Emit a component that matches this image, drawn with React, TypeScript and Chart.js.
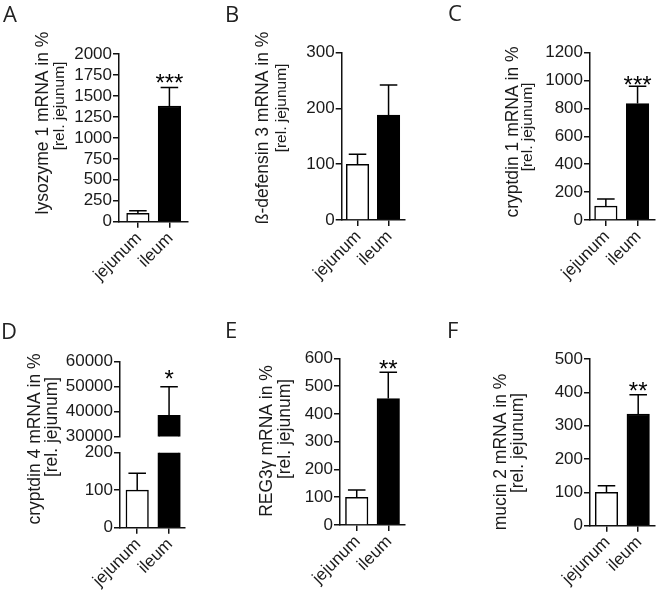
import React, { useEffect, useRef } from "react";
import { Chart, registerables } from "chart.js";

Chart.register(...registerables);

// ---------- data ----------
const categories = ["jejunum", "ileum"];

const lysozymeMeans = [100, 1380];
const lysozymeErrors = [130, 1600];
const lysozymeTicks = [0, 250, 500, 750, 1000, 1250, 1500, 1750, 2000];

const defensinMeans = [100, 188];
const defensinErrors = [118, 242];
const defensinTicks = [0, 100, 200, 300];

const cryptdin1Means = [100, 835];
const cryptdin1Errors = [150, 960];
const cryptdin1Ticks = [0, 200, 400, 600, 800, 1000, 1200];

const cryptdin4Means = [100, 38500];
const cryptdin4Errors = [145, 50000];
const cryptdin4UpperTicks = [30000, 40000, 50000, 60000];
const cryptdin4LowerTicks = [0, 100, 200];

const reg3gMeans = [100, 455];
const reg3gErrors = [126, 550];
const reg3gTicks = [0, 100, 200, 300, 400, 500, 600];

const mucinMeans = [100, 335];
const mucinErrors = [120, 393];
const mucinTicks = [0, 100, 200, 300, 400, 500];

const panelLetters = ["A", "B", "C", "D", "E", "F"];
const yTitles = [
  "lysozyme 1 mRNA in %",
  "ß-defensin 3 mRNA in %",
  "cryptdin 1 mRNA in %",
  "cryptdin 4 mRNA in %",
  "REG3γ mRNA in %",
  "mucin 2 mRNA in %",
];
const ySubTitle = "[rel. jejunum]";
const significance = ["***", "", "***", "*", "**", "**"];

// ---------- style ----------
const FONT = "'Liberation Sans', Arial, Helvetica, sans-serif";
const INK = "#111111";
const TEXT = "#1a1a1a";
const Y_AXIS_W = 60;
const X_AXIS_H = 70;

type Spec = {
  key: string;
  box: { x: number; y: number; w: number; h: number };
  area: { left: number; right: number; top: number; bottom: number };
  xMin: number;
  xMax: number;
  showX: boolean;
  means: number[];
  errors: number[];
  ticks: number[];
  stars: string;
  starGap: number;
  letter?: { text: string; x: number; y: number };
  titles?: { text: string; x: number; y: number; size: number }[];
};

const decorPlugin = {
  id: "decor",
  afterDatasetsDraw(chart: any, _args: any, opts: any) {
    const ctx = chart.ctx as CanvasRenderingContext2D;
    const ys = chart.scales.y;
    const meta = chart.getDatasetMeta(0);
    ctx.save();
    ctx.strokeStyle = "#000";
    ctx.lineWidth = 1.5;
    (opts.errors as number[]).forEach((err, i) => {
      const mean = opts.means[i];
      if (err > ys.max || err < ys.min) return;
      const bar = meta.data[i];
      const cx = bar.x;
      const y0 = ys.getPixelForValue(Math.max(mean, ys.min));
      const y1 = ys.getPixelForValue(err);
      const cap = bar.width * 0.78;
      ctx.beginPath();
      ctx.moveTo(cx, y0);
      ctx.lineTo(cx, y1);
      ctx.moveTo(cx - cap / 2, y1);
      ctx.lineTo(cx + cap / 2, y1);
      ctx.stroke();
      if (i === opts.means.length - 1 && opts.stars) {
        const size = 24;
        ctx.fillStyle = "#000";
        ctx.font = `${size}px ${FONT}`;
        ctx.textAlign = "center";
        ctx.textBaseline = "alphabetic";
        const centerY = y1 - opts.starGap;
        ctx.fillText(opts.stars, cx, centerY + 0.57 * size);
      }
    });
    ctx.restore();
  },
  afterDraw(chart: any, _args: any, opts: any) {
    const ctx = chart.ctx as CanvasRenderingContext2D;
    const bx = opts.box.x;
    const by = opts.box.y;
    ctx.save();
    // rotated category labels under the x axis, anchored at the scale's ticks
    if (opts.showX) {
      const xs = chart.scales.x;
      const base = chart.chartArea.bottom;
      categories.forEach((c, i) => {
        const tx = xs.getPixelForValue(i);
        ctx.save();
        ctx.translate(tx + 1, base + 14);
        ctx.rotate(-Math.PI / 4);
        ctx.fillStyle = TEXT;
        ctx.font = `17px ${FONT}`;
        ctx.textAlign = "right";
        ctx.textBaseline = "middle";
        ctx.fillText(c, 0, 0);
        ctx.restore();
      });
    }
    if (opts.letter) {
      ctx.fillStyle = "#222";
      ctx.font = `22px 'Open Sans', ${FONT}`;
      ctx.textAlign = "left";
      ctx.textBaseline = "alphabetic";
      ctx.fillText(opts.letter.text, opts.letter.x - bx, opts.letter.y - by);
    }
    if (opts.titles) {
      for (const t of opts.titles) {
        ctx.save();
        ctx.translate(t.x - bx, t.y - by);
        ctx.rotate(-Math.PI / 2);
        ctx.fillStyle = TEXT;
        ctx.font = `${t.size}px ${FONT}`;
        ctx.textAlign = "center";
        ctx.textBaseline = "middle";
        ctx.fillText(t.text, 0, 0);
        ctx.restore();
      }
    }
    ctx.restore();
  },
};

function buildConfig(s: Spec): any {
  const tickFont = { family: FONT, size: 17 };
  const xh = s.showX ? X_AXIS_H : 0;
  const padding = {
    left: s.area.left - s.box.x - Y_AXIS_W,
    right: s.box.x + s.box.w - s.area.right,
    top: s.area.top - s.box.y,
    bottom: s.box.y + s.box.h - s.area.bottom - xh,
  };
  return {
    type: "bar",
    data: {
      datasets: [
        {
          data: s.means.map((v, i) => ({ x: i, y: v })),
          backgroundColor: ["#ffffff", "#000000"],
          borderColor: "#000000",
          borderWidth: 1.5,
          barThickness: 22.5,
          clip: 0,
        },
      ],
    },
    options: {
      responsive: false,
      animation: false,
      events: [],
      layout: { padding },
      plugins: {
        legend: { display: false },
        tooltip: { enabled: false },
        title: { display: false },
        decor: {
          box: s.box,
          showX: s.showX,
          means: s.means,
          errors: s.errors,
          stars: s.stars,
          starGap: s.starGap,
          letter: s.letter,
          titles: s.titles,
        },
      },
      scales: {
        x: {
          type: "linear",
          min: s.xMin,
          max: s.xMax,
          offset: false,
          display: s.showX,
          afterBuildTicks: (a: any) => {
            a.ticks = categories.map((_, i) => ({ value: i }));
          },
          afterFit: (a: any) => {
            a.height = xh;
            a.paddingLeft = 0;
            a.paddingRight = 0;
          },
          grid: {
            display: true,
            offset: false,
            drawOnChartArea: false,
            drawTicks: true,
            tickLength: 6,
            color: INK,
            lineWidth: 1.5,
          },
          border: { display: true, color: INK, width: 1.5 },
          ticks: {
            display: false,
            autoSkip: false,
            font: tickFont,
            callback: (v: number) => categories[v],
          },
        },
        y: {
          type: "linear",
          min: s.ticks[0],
          max: s.ticks[s.ticks.length - 1],
          afterBuildTicks: (a: any) => {
            a.ticks = s.ticks.map((v) => ({ value: v }));
          },
          afterFit: (a: any) => {
            a.width = Y_AXIS_W;
            a.paddingTop = 0;
            a.paddingBottom = 0;
          },
          grid: {
            display: true,
            drawOnChartArea: false,
            drawTicks: true,
            tickLength: 6,
            color: INK,
            lineWidth: 1.5,
          },
          border: { display: true, color: INK, width: 1.5 },
          ticks: {
            autoSkip: false,
            padding: 1,
            font: tickFont,
            color: TEXT,
            callback: (v: number) => String(v),
          },
        },
      },
    },
    plugins: [decorPlugin],
  };
}

const TOP_H = 300;
const BOT_H = 315;

const specs: Spec[] = [
  {
    key: "A",
    box: { x: 0, y: 0, w: 218, h: TOP_H },
    area: { left: 119, right: 188, top: 54, bottom: 221.7 },
    xMin: -0.6,
    xMax: 1.59,
    showX: true,
    means: lysozymeMeans,
    errors: lysozymeErrors,
    ticks: lysozymeTicks,
    stars: significance[0],
    starGap: 10,
    letter: { text: panelLetters[0], x: 3, y: 22 },
    titles: [
      { text: yTitles[0], x: 43, y: 123, size: 17.5 },
      { text: ySubTitle, x: 60, y: 106, size: 15.5 },
    ],
  },
  {
    key: "B",
    box: { x: 218, y: 0, w: 218, h: TOP_H },
    area: { left: 341.7, right: 405, top: 52.7, bottom: 220 },
    xMin: -0.51,
    xMax: 1.53,
    showX: true,
    means: defensinMeans,
    errors: defensinErrors,
    ticks: defensinTicks,
    stars: significance[1],
    starGap: 9,
    letter: { text: panelLetters[1], x: 225, y: 22 },
    titles: [
      { text: yTitles[1], x: 263, y: 128, size: 17.5 },
      { text: ySubTitle, x: 282, y: 108, size: 15.5 },
    ],
  },
  {
    key: "C",
    box: { x: 436, y: 0, w: 224, h: TOP_H },
    area: { left: 590, right: 655, top: 52.7, bottom: 220 },
    xMin: -0.5,
    xMax: 1.55,
    showX: true,
    means: cryptdin1Means,
    errors: cryptdin1Errors,
    ticks: cryptdin1Ticks,
    stars: significance[2],
    starGap: 7,
    letter: { text: panelLetters[2], x: 448, y: 21 },
    titles: [
      { text: yTitles[2], x: 513, y: 132, size: 17.5 },
      { text: ySubTitle, x: 528, y: 127, size: 15.5 },
    ],
  },
  {
    key: "D-low",
    box: { x: 0, y: 290, w: 218, h: BOT_H },
    area: { left: 120, right: 185, top: 452.7, bottom: 527.7 },
    xMin: -0.54,
    xMax: 1.5,
    showX: true,
    means: cryptdin4Means,
    errors: cryptdin4Errors,
    ticks: cryptdin4LowerTicks,
    stars: "",
    starGap: 13,
    letter: { text: panelLetters[3], x: 1, y: 339 },
    titles: [
      { text: yTitles[3], x: 35, y: 439, size: 17.5 },
      { text: ySubTitle, x: 52, y: 427, size: 17.5 },
    ],
  },
  {
    key: "D-up",
    box: { x: 0, y: 290, w: 218, h: 160 },
    area: { left: 120, right: 185, top: 361.7, bottom: 436.5 },
    xMin: -0.54,
    xMax: 1.5,
    showX: false,
    means: cryptdin4Means,
    errors: cryptdin4Errors,
    ticks: cryptdin4UpperTicks,
    stars: significance[3],
    starGap: 13,
  },
  {
    key: "E",
    box: { x: 218, y: 290, w: 218, h: BOT_H },
    area: { left: 340, right: 405, top: 358.3, bottom: 525 },
    xMin: -0.53,
    xMax: 1.53,
    showX: true,
    means: reg3gMeans,
    errors: reg3gErrors,
    ticks: reg3gTicks,
    stars: significance[4],
    starGap: 8.6,
    letter: { text: panelLetters[4], x: 225, y: 338 },
    titles: [
      { text: yTitles[4], x: 267, y: 441, size: 17.5 },
      { text: ySubTitle, x: 285, y: 429, size: 17.5 },
    ],
  },
  {
    key: "F",
    box: { x: 436, y: 290, w: 224, h: BOT_H },
    area: { left: 590, right: 655, top: 359, bottom: 525.7 },
    xMin: -0.52,
    xMax: 1.53,
    showX: true,
    means: mucinMeans,
    errors: mucinErrors,
    ticks: mucinTicks,
    stars: significance[5],
    starGap: 9,
    letter: { text: panelLetters[5], x: 447, y: 338 },
    titles: [
      { text: yTitles[5], x: 501, y: 452, size: 17.5 },
      { text: ySubTitle, x: 518, y: 443, size: 17.5 },
    ],
  },
];

function Panel({ spec }: { spec: Spec }) {
  const ref = useRef<HTMLCanvasElement | null>(null);
  useEffect(() => {
    if (!ref.current) return;
    const chart = new Chart(ref.current, buildConfig(spec));
    return () => chart.destroy();
  }, [spec]);
  return (
    <canvas
      ref={ref}
      width={spec.box.w}
      height={spec.box.h}
      style={{
        position: "absolute",
        left: spec.box.x,
        top: spec.box.y,
        width: spec.box.w,
        height: spec.box.h,
      }}
    />
  );
}

export default function App() {
  return (
    <div
      style={{
        position: "absolute",
        left: 0,
        top: 0,
        width: 656,
        height: 595,
        overflow: "hidden",
        background: "#ffffff",
      }}
    >
      {specs.map((s) => (
        <Panel key={s.key} spec={s} />
      ))}
    </div>
  );
}
